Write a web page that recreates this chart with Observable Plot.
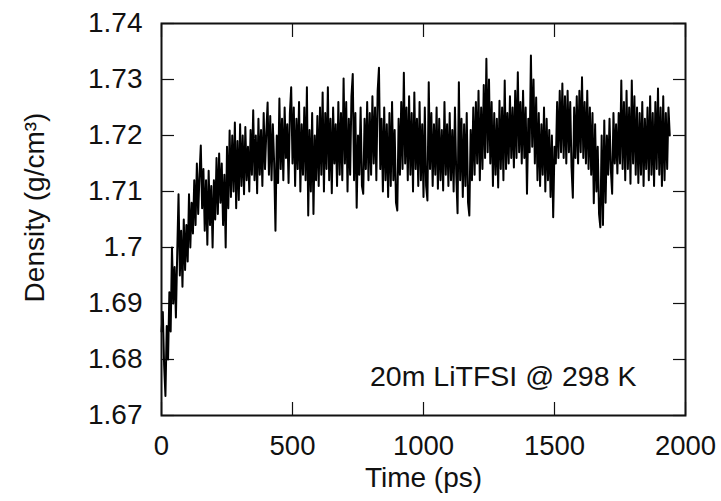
<!DOCTYPE html>
<html>
<head>
<meta charset="utf-8">
<script src="https://cdn.jsdelivr.net/npm/d3@7"></script>
<script src="https://cdn.jsdelivr.net/npm/@observablehq/plot@0.6"></script>
<style>
  html, body { margin: 0; padding: 0; background: #fff; }
  #chart svg { display: block; }
</style>
</head>
<body>
<div id="chart"></div>
<script>
const sampleStep = 5; // ps
const density = [
  1.6850,1.6885,1.6790,1.6735,1.6860,1.6800,1.6920,1.6850,1.7000,1.6900,1.6965,1.6875,1.6990,1.7095,1.6950,1.7030,1.6930,1.7050,1.6960,1.7040,
  1.6975,1.7095,1.7000,1.7080,1.7025,1.7120,1.7040,1.7150,1.7060,1.7130,1.7182,1.7070,1.7140,1.7030,1.7120,1.7005,1.7137,1.7040,1.7110,1.7000,
  1.7120,1.7050,1.7160,1.7060,1.7168,1.7080,1.7150,1.7040,1.7130,1.7000,1.7180,1.7070,1.7209,1.7090,1.7200,1.7100,1.7223,1.7070,1.7190,1.7085,
  1.7220,1.7110,1.7200,1.7095,1.7215,1.7120,1.7180,1.7100,1.7210,1.7130,1.7245,1.7120,1.7200,1.7097,1.7230,1.7130,1.7210,1.7110,1.7240,1.7140,
  1.7205,1.7259,1.7130,1.7235,1.7120,1.7220,1.7150,1.7030,1.7200,1.7115,1.7266,1.7140,1.7230,1.7120,1.7250,1.7160,1.7220,1.7115,1.7240,1.7286,
  1.7150,1.7250,1.7110,1.7230,1.7140,1.7260,1.7100,1.7220,1.7130,1.7250,1.7120,1.7286,1.7057,1.7210,1.7100,1.7240,1.7060,1.7200,1.7120,1.7235,
  1.7110,1.7250,1.7130,1.7277,1.7100,1.7240,1.7140,1.7286,1.7120,1.7230,1.7097,1.7250,1.7150,1.7220,1.7110,1.7260,1.7130,1.7240,1.7120,1.7302,
  1.7150,1.7260,1.7100,1.7230,1.7130,1.7270,1.7310,1.7120,1.7240,1.7071,1.7200,1.7130,1.7250,1.7110,1.7096,1.7230,1.7140,1.7260,1.7120,1.7240,
  1.7130,1.7270,1.7150,1.7250,1.7120,1.7280,1.7321,1.7140,1.7230,1.7100,1.7250,1.7120,1.7220,1.7090,1.7240,1.7110,1.7260,1.7120,1.7210,1.7080,
  1.7066,1.7230,1.7130,1.7260,1.7140,1.7312,1.7150,1.7250,1.7120,1.7270,1.7130,1.7240,1.7100,1.7277,1.7140,1.7230,1.7110,1.7260,1.7120,1.7220,
  1.7090,1.7250,1.7110,1.7084,1.7295,1.7140,1.7240,1.7110,1.7220,1.7130,1.7250,1.7105,1.7230,1.7120,1.7210,1.7102,1.7260,1.7130,1.7220,1.7110,
  1.7240,1.7120,1.7210,1.7100,1.7250,1.7130,1.7061,1.7295,1.7120,1.7230,1.7090,1.7220,1.7110,1.7240,1.7080,1.7057,1.7210,1.7120,1.7250,1.7130,
  1.7260,1.7150,1.7280,1.7120,1.7250,1.7140,1.7290,1.7160,1.7337,1.7170,1.7300,1.7150,1.7260,1.7110,1.7240,1.7130,1.7230,1.7107,1.7262,1.7140,
  1.7250,1.7120,1.7298,1.7140,1.7240,1.7150,1.7270,1.7160,1.7250,1.7143,1.7280,1.7160,1.7313,1.7170,1.7260,1.7150,1.7280,1.7160,1.7250,1.7096,
  1.7230,1.7170,1.7343,1.7180,1.7300,1.7150,1.7268,1.7120,1.7240,1.7110,1.7220,1.7130,1.7250,1.7100,1.7230,1.7120,1.7210,1.7090,1.7200,1.7054,
  1.7180,1.7150,1.7260,1.7160,1.7280,1.7170,1.7293,1.7160,1.7270,1.7150,1.7280,1.7170,1.7260,1.7143,1.7089,1.7250,1.7160,1.7270,1.7150,1.7280,
  1.7170,1.7304,1.7160,1.7260,1.7150,1.7280,1.7140,1.7250,1.7130,1.7240,1.7079,1.7220,1.7100,1.7180,1.7060,1.7036,1.7200,1.7040,1.7227,1.7080,
  1.7200,1.7130,1.7230,1.7140,1.7096,1.7240,1.7150,1.7220,1.7132,1.7240,1.7150,1.7298,1.7140,1.7260,1.7120,1.7280,1.7140,1.7250,1.7114,1.7298,
  1.7150,1.7270,1.7130,1.7250,1.7115,1.7240,1.7130,1.7260,1.7110,1.7230,1.7140,1.7250,1.7120,1.7270,1.7130,1.7240,1.7110,1.7260,1.7140,1.7284,
  1.7130,1.7250,1.7110,1.7270,1.7120,1.7240,1.7140,1.7250,1.7200
];

const xTicks = [0, 500, 1000, 1500, 2000];
const yTicks = [1.67, 1.68, 1.69, 1.70, 1.71, 1.72, 1.73, 1.74];
const yTickLabels = ["1.67", "1.68", "1.69", "1.7", "1.71", "1.72", "1.73", "1.74"];
const xLabel = "Time (ps)";
const yLabel = "Density (g/cm³)";
const note = "20m LiTFSI @ 298 K";

const rows = density.map((d, i) => ({time: i * sampleStep, density: d}));
const yLabelOf = v => yTickLabels[yTicks.findIndex(t => Math.abs(t - v) < 1e-9)];

const FONT = 28;
const tickLen = 13;

const chart = Plot.plot({
  width: 721,
  height: 501,
  marginLeft: 161,
  marginRight: 36,
  marginTop: 23,
  marginBottom: 86,
  style: {fontFamily: "'Liberation Sans', Arial, Helvetica, sans-serif", color: "#111", background: "#fff"},
  x: {domain: [0, 2000], ticks: xTicks},
  y: {domain: [1.67, 1.74], ticks: yTicks},
  marks: [
    // inward ticks on all four sides
    Plot.axisY(yTicks, {anchor: "left", tickSize: tickLen, dx: tickLen, tickFormat: () => "", label: null, stroke: "#111", strokeWidth: 1.2}),
    Plot.axisY(yTicks, {anchor: "right", tickSize: tickLen, dx: -tickLen, tickFormat: () => "", label: null, stroke: "#111", strokeWidth: 1.2}),
    Plot.axisX(xTicks, {anchor: "bottom", tickSize: tickLen, dy: -tickLen, tickFormat: () => "", label: null, stroke: "#111", strokeWidth: 1.2}),
    Plot.axisX(xTicks, {anchor: "top", tickSize: tickLen, dy: tickLen, tickFormat: () => "", label: null, stroke: "#111", strokeWidth: 1.2}),
    // tick labels
    Plot.axisY(yTicks, {anchor: "left", tickSize: 0, tickPadding: 19, tickFormat: yLabelOf, label: null, fontSize: FONT, fill: "#111"}),
    Plot.axisX(xTicks, {anchor: "bottom", tickSize: 0, tickPadding: 20, tickFormat: d => String(d), label: null, fontSize: 27.5, fill: "#111"}),
    // data
    Plot.line(rows, {x: "time", y: "density", stroke: "#000", strokeWidth: 2}),
    Plot.frame({stroke: "#111", strokeWidth: 2}),
    // axis titles and annotation
    Plot.text([yLabel], {frameAnchor: "left", textAnchor: "middle", lineAnchor: "middle", rotate: -90, dx: -126, dy: -12, fontSize: FONT, fill: "#111"}),
    Plot.text([xLabel], {frameAnchor: "bottom", textAnchor: "middle", dy: 71, fontSize: FONT, fill: "#111"}),
    Plot.text([note], {frameAnchor: "bottom-right", textAnchor: "end", lineAnchor: "bottom", dx: -49, dy: -30, fontSize: 28.5, fill: "#111"})
  ]
});

document.getElementById("chart").appendChild(chart);
</script>
</body>
</html>
